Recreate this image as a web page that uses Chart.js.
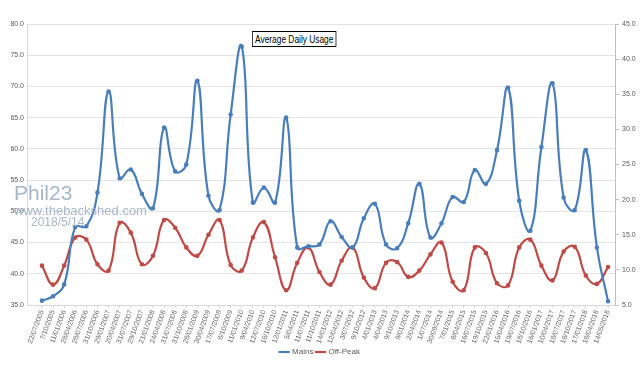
<!DOCTYPE html>
<html lang="en">
<head>
    <meta charset="UTF-8">
    <title>Average Daily Usage</title>
    <script src="https://cdn.jsdelivr.net/npm/chart.js@4"></script>
    <style>
        body { margin: 0; background: #fff; }
        #wrap { position: relative; width: 640px; height: 366px; }
        #chartTitle {
            position: absolute; left: 252px; top: 31px;
            border: 1px solid #000; background: #fff;
            font: 11px "Liberation Sans", sans-serif; color: #000;
            padding: 1px 3px; white-space: nowrap;
            transform: scaleX(0.76); transform-origin: left top;
        }
        .mark { position: absolute; color: #a7b6c9; font-family: "Liberation Sans", sans-serif; white-space: nowrap; }
    </style>
</head>
<body>
<div id="wrap">
    <canvas id="usageChart" width="640" height="366"></canvas>
    <div id="chartTitle">Average Daily Usage</div>
    <div class="mark" style="left:14px;top:181px;font-size:21px;">Phil23</div>
    <div class="mark" style="left:14px;top:203px;font-size:13px;">www.thebackshed.com</div>
    <div class="mark" style="left:31px;top:215px;font-size:12px;">2018/5/14</div>
</div>
<script>
    // reading dates (x axis)
    const labels = [
        '22/07/2005', '7/10/2005', '11/01/2006', '28/04/2006', '28/07/2006', '31/10/2006',
        '29/01/2007', '20/04/2007', '31/07/2007', '29/10/2007', '21/01/2008', '24/04/2008',
        '31/07/2008', '31/10/2008', '28/01/2009', '30/04/2009', '17/07/2009', '8/10/2009',
        '11/01/2010', '9/04/2010', '12/07/2010', '18/10/2010', '12/01/2011', '5/04/2011',
        '11/07/2011', '11/10/2011', '14/01/2012', '12/04/2012', '3/07/2012', '9/10/2012',
        '4/01/2013', '4/04/2013', '9/10/2013', '9/01/2014', '2/04/2014', '1/07/2014',
        '30/09/2014', '7/01/2015', '8/04/2015', '16/07/2015', '19/10/2015', '22/01/2016',
        '15/04/2016', '19/07/2016', '18/10/2016', '16/01/2017', '10/04/2017', '18/07/2017',
        '18/10/2017', '17/01/2018', '18/04/2018', '14/05/2018'
    ];

    // Mains, left axis
    const mains = [
        35.7, 36.4, 38.3, 47.5, 47.6, 53.0, 69.2, 55.3, 56.7, 52.8, 50.5, 63.4,
        56.4, 57.5, 70.9, 52.5, 50.2, 65.5, 76.4, 51.4, 53.8, 51.4, 65.0, 44.2,
        44.4, 44.7, 48.4, 45.9, 44.2, 48.9, 51.2, 44.7, 44.1, 48.1, 54.4, 45.8,
        48.1, 52.3, 51.5, 56.6, 54.4, 59.8, 69.8, 51.7, 46.9, 60.3, 70.5, 52.2,
        50.2, 59.8, 44.2, 35.6
    ];

    // Off-Peak, right axis
    const offPeak = [
        10.6, 7.9, 10.6, 14.6, 14.3, 10.8, 9.9, 16.7, 15.3, 10.8, 12.0, 17.1,
        16.0, 13.2, 12.0, 15.0, 17.1, 10.7, 9.9, 14.6, 16.8, 11.8, 7.1, 11.0,
        13.2, 9.7, 7.9, 11.3, 13.2, 8.9, 7.4, 11.0, 11.1, 9.0, 9.9, 12.2,
        13.9, 8.3, 7.1, 13.2, 12.4, 8.1, 7.8, 13.2, 14.3, 10.6, 8.5, 12.6,
        13.3, 9.2, 8.0, 10.4
    ];

    const leftAxis = { min: 35, max: 80, step: 5 };
    const rightAxis = { min: 5, max: 45, step: 5 };

    const tickFont = { family: 'Liberation Sans', size: 7 };
    const tickColor = '#595959';

    // x is the reading index, so the plot can keep Excel's uneven side gaps
    const toPoints = arr => arr.map((v, i) => ({ x: i, y: v }));

    const ctx = document.getElementById('usageChart').getContext('2d');
    new Chart(ctx, {
        type: 'line',
        data: {
            datasets: [{
                label: 'Mains',
                data: toPoints(mains),
                yAxisID: 'y',
                borderColor: '#4a7ebb',
                backgroundColor: '#4a7ebb',
                borderWidth: 2.2,
                pointRadius: 1.2,
                tension: 0.45
            }, {
                label: 'Off-Peak',
                data: toPoints(offPeak),
                yAxisID: 'y1',
                borderColor: '#be4b48',
                backgroundColor: '#be4b48',
                borderWidth: 2.2,
                pointRadius: 1.2,
                tension: 0.45
            }]
        },
        options: {
            responsive: false,
            animation: false,
            layout: { padding: { top: 24, left: 0, right: 0, bottom: 0 } },
            plugins: {
                tooltip: { enabled: false },
                legend: {
                    position: 'bottom',
                    labels: {
                        usePointStyle: true,
                        pointStyle: 'line',
                        boxWidth: 18,
                        boxHeight: 8,
                        padding: 3,
                        color: tickColor,
                        font: { family: 'Liberation Sans', size: 8 }
                    }
                }
            },
            scales: {
                x: {
                    type: 'linear',
                    min: -1.35,
                    max: labels.length - 1 + 0.63,
                    afterBuildTicks(s) { s.ticks = labels.map((_, i) => ({ value: i })); },
                    grid: { display: true, drawOnChartArea: false, tickLength: 3, color: '#d9d9d9' },
                    border: { color: '#d9d9d9' },
                    ticks: {
                        autoSkip: false, minRotation: 70, maxRotation: 70, padding: 1,
                        font: tickFont, color: '#6b6b6b',
                        callback: v => labels[v]
                    },
                    afterFit(s) { s.height = 40; }
                },
                y: {
                    position: 'left',
                    min: leftAxis.min, max: leftAxis.max,
                    ticks: { stepSize: leftAxis.step, font: tickFont, color: tickColor, callback: v => v.toFixed(1) },
                    grid: { color: '#e3e3e3', drawTicks: false },
                    border: { display: true, color: '#d9d9d9' },
                    afterFit(s) { s.width = 27; }
                },
                y1: {
                    position: 'right',
                    min: rightAxis.min, max: rightAxis.max,
                    ticks: { stepSize: rightAxis.step, font: tickFont, color: tickColor, callback: v => v.toFixed(1) },
                    grid: { drawOnChartArea: false, tickLength: 4, color: '#bfbfbf' },
                    border: { display: true, color: '#bfbfbf' },
                    afterFit(s) { s.width = 25; }
                }
            }
        }
    });
</script>
</body>
</html>
